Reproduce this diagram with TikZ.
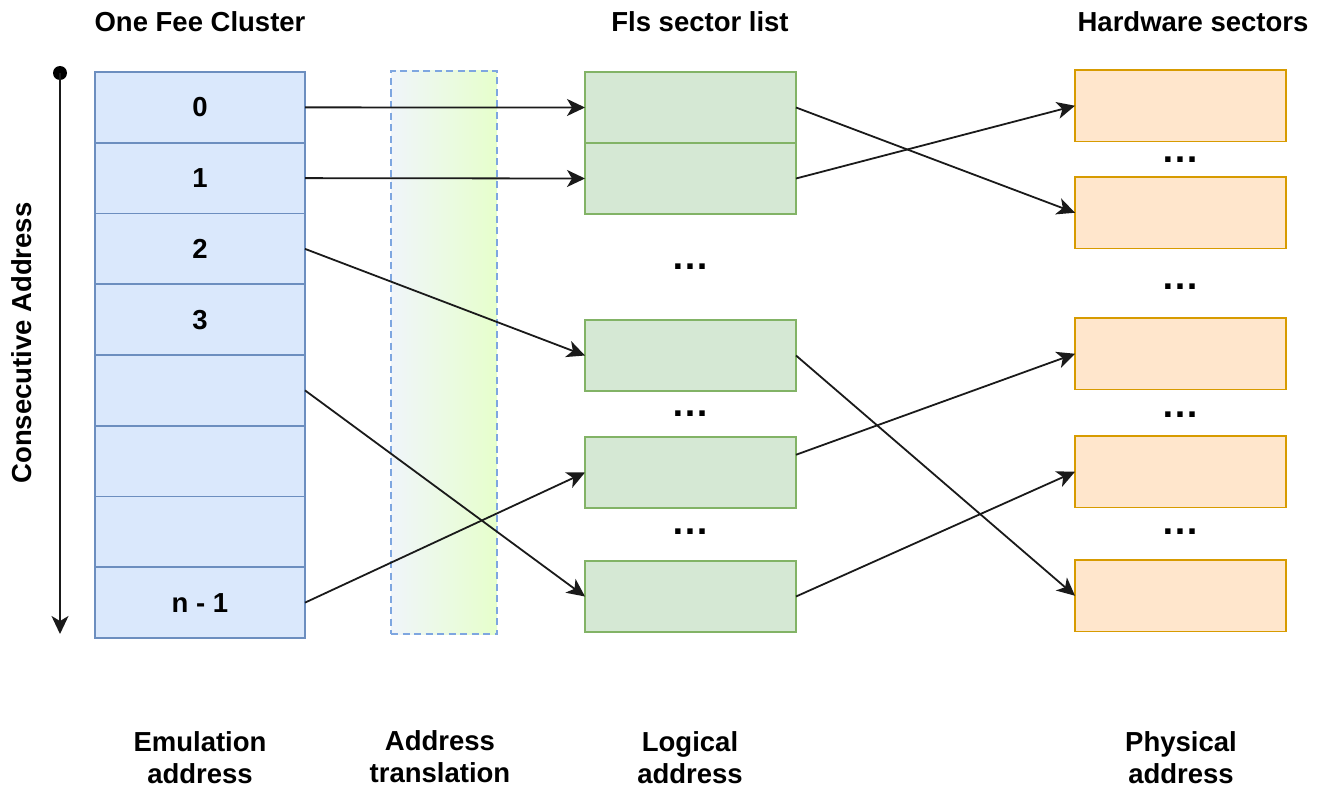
\documentclass[tikz,border=0pt]{standalone}
\usepackage{fontspec}
\setmainfont{Liberation Sans}
\usetikzlibrary{arrows.meta,calc}
\definecolor{bluefill}{HTML}{DAE8FC}
\definecolor{bluestroke}{HTML}{6C8EBF}
\definecolor{dashblue}{HTML}{7EA6E0}
\definecolor{greenfill}{HTML}{D5E8D4}
\definecolor{greenstroke}{HTML}{82B366}
\definecolor{orangefill}{HTML}{FFE6CC}
\definecolor{orangestroke}{HTML}{D79B00}
\definecolor{gradleft}{HTML}{F0F5FA}
\definecolor{gradright}{HTML}{E6FFCC}
\definecolor{linecol}{HTML}{1A1A1A}
\tikzset{
  txt/.style={font=\fontsize{27.5}{32}\selectfont\bfseries, inner sep=0pt, align=center},
  cellbox/.style={draw=bluestroke, fill=bluefill, line width=1.8pt, minimum width=210pt, minimum height=70.75pt, inner sep=0pt, outer sep=0pt, anchor=north west, txt},
  logbox/.style={draw=greenstroke, fill=greenfill, line width=1.8pt, minimum width=211pt, minimum height=71pt, inner sep=0pt, outer sep=0pt, anchor=north west},
  hwbox/.style={draw=orangestroke, fill=orangefill, line width=1.8pt, minimum width=211pt, minimum height=71.5pt, inner sep=0pt, outer sep=0pt, anchor=north west},
  dots/.style={font=\fontsize{38}{40}\selectfont\bfseries, inner sep=0pt, anchor=base},
  arr/.style={draw=linecol, line width=1.8pt, -{Stealth[length=18pt,width=17pt,inset=5pt]}},
}
\begin{document}
\begin{tikzpicture}[x=1pt,y=-1pt]
\useasboundingbox (0,0) rectangle (1329,789);
% address translation band
\node[draw=dashblue, dash pattern=on 7pt off 4.5pt, line width=2pt, left color=gradleft, right color=gradright,
      minimum width=106pt, minimum height=563pt, inner sep=0pt, anchor=north west] (band) at (390,70) {};
% emulation column
\node[cellbox] (b0) at (95,72) {0};
\node[cellbox] (b1) at (95,142.75) {1};
\node[cellbox] (b2) at (95,213.5) {2};
\node[cellbox] (b3) at (95,284.25) {3};
\node[cellbox] (b4) at (95,355) {};
\node[cellbox] (b5) at (95,425.75) {};
\node[cellbox] (b6) at (95,496.5) {};
\node[cellbox] (b7) at (95,567.25) {n - 1};
% logical sectors
\node[logbox] (g1) at (585,72) {};
\node[logbox] (g2) at (585,143) {};
\node[logbox] (g3) at (585,320) {};
\node[logbox] (g4) at (585,437) {};
\node[logbox] (g5) at (585,561) {};
\node[dots] (gd1) at (690,269) {…};
\node[dots] (gd2) at (690,416) {…};
\node[dots] (gd3) at (690,534) {…};
% hardware sectors
\node[hwbox] (o1) at (1075,70) {};
\node[hwbox] (o2) at (1075,177) {};
\node[hwbox] (o3) at (1075,318) {};
\node[hwbox] (o4) at (1075,436) {};
\node[hwbox] (o5) at (1075,560) {};
\node[dots] (od1) at (1180,162) {…};
\node[dots] (od2) at (1180,289) {…};
\node[dots] (od3) at (1180,417) {…};
\node[dots] (od4) at (1180,534) {…};
% titles
\node[txt] (t1) at (200,22) {One Fee Cluster};
\node[txt] (t2) at (700,22) {Fls sector list};
\node[txt] (t3) at (1193,22) {Hardware sectors};
% bottom labels
\node[txt] (l1) at (200,758) {Emulation\\address};
\node[txt] (l2) at (440,757) {Address\\translation};
\node[txt] (l3) at (690,758) {Logical\\address};
\node[txt] (l4) at (1181,758) {Physical\\address};
% consecutive address axis
\node[txt, rotate=90] (ca) at (22,343) {Consecutive Address};
\node[circle, fill=black, inner sep=0pt, minimum size=14pt] (dot) at (60,73) {};
\coordinate (axend) at (60,634);
\draw[arr] (dot.center) -- (axend);
% mappings emulation -> logical
\draw[arr] (b0.east) -- (g1.west);
\draw[arr] (b1.east) -- (g2.west);
\draw[arr] (b2.east) -- (g3.west);
\draw[arr] (b4.east) -- (g5.west);
\draw[arr] (b7.east) -- (g4.west);
% mappings logical -> physical
\draw[arr] (g1.east) -- (o2.west);
\draw[arr] (g2.east) -- (o1.west);
\draw[arr] (g3.east) -- (o5.west);
\draw[arr] ($(g4.north east)!0.25!(g4.south east)$) -- (o3.west);
\draw[arr] (g5.east) -- (o4.west);
\end{tikzpicture}
\end{document}
